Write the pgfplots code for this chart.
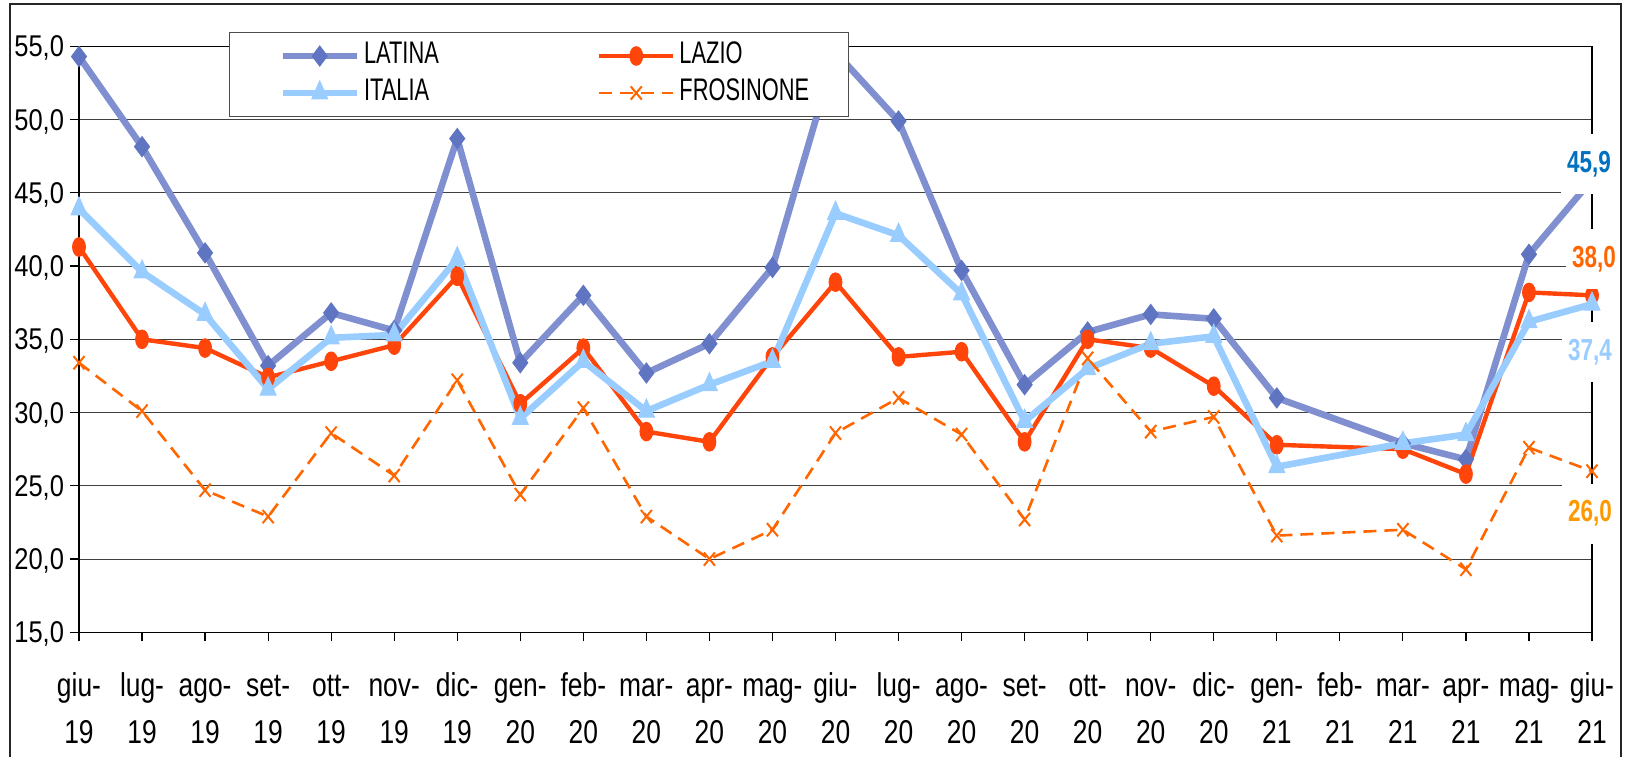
\documentclass[border=0pt]{standalone}
\usepackage{fontspec}
\setmainfont{Liberation Sans}
\newfontfamily\yfont{Liberation Sans}[FakeStretch=0.85]
\newfontfamily\xfont{Liberation Sans}[FakeStretch=0.80]
\newfontfamily\legfont{Liberation Sans}[FakeStretch=0.70]
\newfontfamily\labfont{Liberation Sans}[FakeStretch=0.74]
\usepackage{pgfplots}
\pgfplotsset{compat=1.18}
\definecolor{latline}{RGB}{128,143,208}
\definecolor{latmark}{RGB}{95,117,194}
\definecolor{lazio}{RGB}{255,69,10}
\definecolor{italia}{RGB}{153,204,255}
\definecolor{fros}{RGB}{255,102,0}
\definecolor{lab1}{RGB}{0,112,192}
\definecolor{lab4}{RGB}{255,153,0}
\newcommand{\xl}[2]{\begin{tabular}{@{}c@{}}#1\\#2\end{tabular}}
\begin{document}
\begin{tikzpicture}
\useasboundingbox (-39.5pt,-61.85pt) rectangle (774.5pt,316.15pt);
\begin{axis}[
  at={(0pt,0pt)}, anchor=south west,
  scale only axis, width=756.5pt, height=293pt,
  clip=false,
  xmin=0, xmax=24, ymin=15, ymax=55,
  xtick={0,...,24},
  xticklabels={\xl{giu-}{19},\xl{lug-}{19},\xl{ago-}{19},\xl{set-}{19},\xl{ott-}{19},\xl{nov-}{19},\xl{dic-}{19},\xl{gen-}{20},\xl{feb-}{20},\xl{mar-}{20},\xl{apr-}{20},\xl{mag-}{20},\xl{giu-}{20},\xl{lug-}{20},\xl{ago-}{20},\xl{set-}{20},\xl{ott-}{20},\xl{nov-}{20},\xl{dic-}{20},\xl{gen-}{21},\xl{feb-}{21},\xl{mar-}{21},\xl{apr-}{21},\xl{mag-}{21},\xl{giu-}{21}},
  ytick={15,20,...,55},
  yticklabels={{15,0},{20,0},{25,0},{30,0},{35,0},{40,0},{45,0},{50,0},{55,0}},
  ymajorgrids, grid style={black!75, line width=0.5pt},
  axis line style={black, line width=0.6pt},
  tick align=outside, xtick pos=bottom, ytick pos=left,
  major tick length=4.5pt,
  xtick style={black, line width=0.6pt},
  ytick style={black, line width=0.6pt},
  xticklabel style={font=\xfont\fontsize{16.5}{23.5}\selectfont, anchor=north, inner sep=0pt, yshift=-10.9pt},
  yticklabel style={font=\yfont\fontsize{15}{18}\selectfont, anchor=east, inner sep=0pt, xshift=-2.8pt, yshift=-1pt},
  legend columns=2,
  legend style={at={(0.0991,1.0244)}, anchor=north west, draw=black!70, line width=0.5pt, fill=white, inner sep=2.5pt, column sep=0pt, row sep=0pt, font=\legfont\fontsize{15.6}{18}\selectfont, nodes={inner sep=2pt, text height=11pt, text depth=3.5pt}, cells={anchor=west}},
  legend image code/.code={\path (-22.5pt,0pt); \draw[mark repeat=2, mark phase=2, #1] plot coordinates {(0pt,0pt) (18.5pt,0pt) (37pt,0pt)};},
]
\addplot[color=latline, line width=3.3pt, mark=diamond*, mark size=5pt, mark options={solid, fill=latmark, draw=latmark, line width=0.5pt}] coordinates {
(0,54.3) (1,48.15) (2,40.9) (3,33.2) (4,36.8) (5,35.6) (6,48.7) (7,33.4) (8,38.0) (9,32.7) (10,34.7) (11,39.9) (12,54.6) (13,49.9) (14,39.7) (15,31.9) (16,35.5) (17,36.7) (18,36.4) (19,31.0) (21,27.9) (22,26.8) (23,40.8) (24,45.9)};
\addlegendentry{\makebox[92pt][l]{LATINA}}
\addplot[color=lazio, line width=2.2pt, mark=*, mark size=3.2pt, mark options={solid, yscale=1.45, fill=lazio, line width=0.5pt}] coordinates {
(0,41.3) (1,35.0) (2,34.4) (3,32.4) (4,33.5) (5,34.6) (6,39.3) (7,30.6) (8,34.4) (9,28.7) (10,28.0) (11,33.8) (12,38.9) (13,33.8) (14,34.15) (15,28.0) (16,35.0) (17,34.4) (18,31.8) (19,27.8) (21,27.5) (22,25.8) (23,38.2) (24,38.0)};
\addlegendentry{\makebox[80pt][l]{LAZIO}}
\addplot[color=italia, line width=3.3pt, mark=triangle*, mark size=4.6pt, mark options={solid, yscale=1.3, fill=italia, line width=0.5pt}] coordinates {
(0,43.9) (1,39.6) (2,36.7) (3,31.6) (4,35.1) (5,35.3) (6,40.5) (7,29.6) (8,33.5) (9,30.1) (10,31.9) (11,33.5) (12,43.6) (13,42.1) (14,38.1) (15,29.4) (16,33.0) (17,34.7) (18,35.2) (19,26.3) (21,27.9) (22,28.5) (23,36.2) (24,37.4)};
\addlegendentry{\makebox[92pt][l]{ITALIA}}
\addplot[color=fros, line width=1.3pt, dash pattern=on 6.5pt off 4pt, mark=x, mark size=3.9pt, mark options={solid, yscale=1.2, line width=1pt}] coordinates {
(0,33.4) (1,30.1) (2,24.7) (3,22.9) (4,28.6) (5,25.7) (6,32.2) (7,24.4) (8,30.3) (9,22.9) (10,20.0) (11,22.0) (12,28.6) (13,31.0) (14,28.5) (15,22.7) (16,33.7) (17,28.7) (18,29.7) (19,21.6) (21,22.0) (22,19.3) (23,27.6) (24,26.0)};
\addlegendentry{\makebox[80pt][l]{FROSINONE}}
\coordinate (la) at (axis cs:24,45.9);
\coordinate (lb) at (axis cs:24,38.0);
\coordinate (lc) at (axis cs:24,37.4);
\coordinate (ld) at (axis cs:24,26.0);
\end{axis}
\tikzset{lab/.style={fill=white, inner sep=0pt, minimum width=28pt, minimum height=30pt, font=\labfont\bfseries\fontsize{15.2}{18}\selectfont}}
\node[lab, text=lab1, xshift=-1.5pt, yshift=7.7pt] at (la) {45,9};
\node[lab, text=fros, xshift=1pt, yshift=18.1pt] at (lb) {38,0};
\node[lab, text=italia, xshift=-1pt, yshift=-24.1pt] at (lc) {37,4};
\node[lab, text=lab4, xshift=-1pt, yshift=-21.2pt] at (ld) {26,0};
\draw[black!85, line width=1pt] (-34.5pt,-70pt) -- (-34.5pt,314pt) -- (771pt,314pt) -- (771pt,-70pt);
\end{tikzpicture}
\end{document}
